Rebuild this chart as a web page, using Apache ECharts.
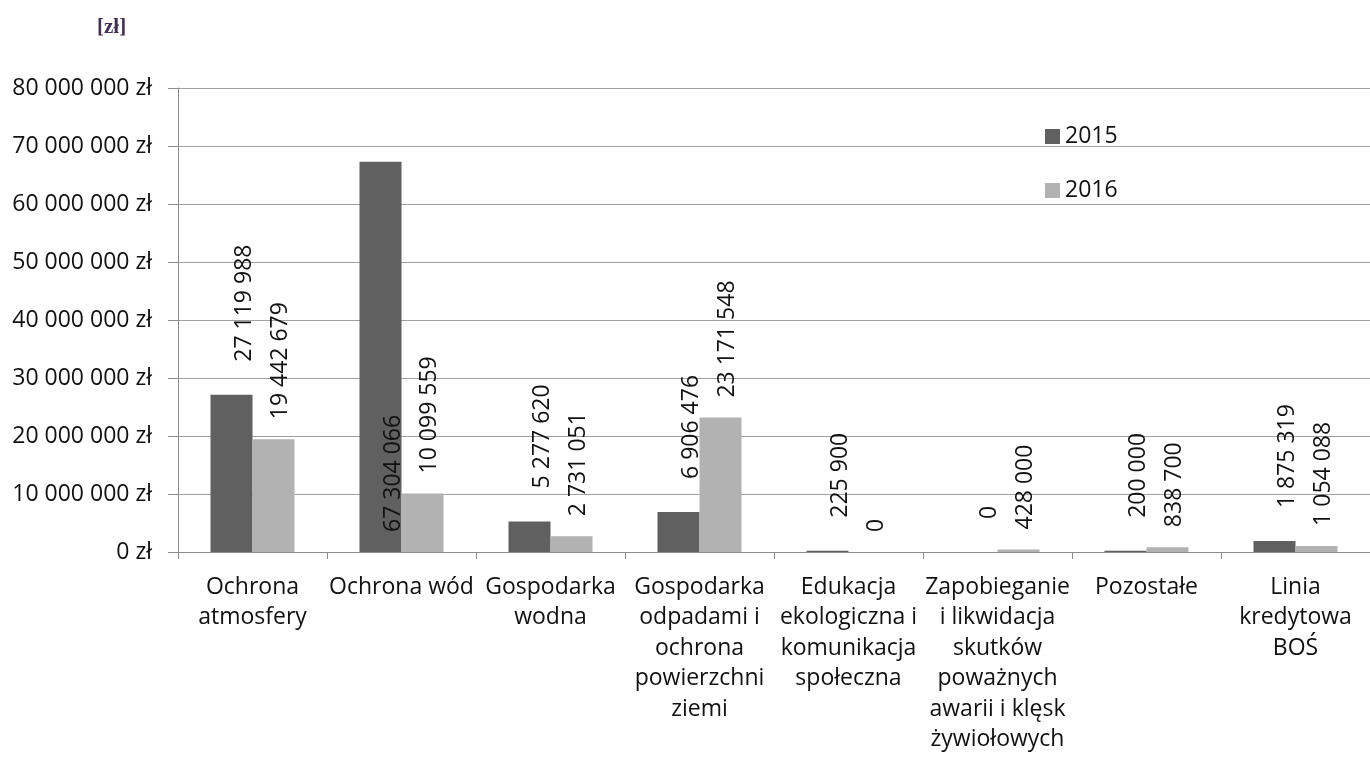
<!DOCTYPE html>
<html style="height: 100%">

<head>
    <meta charset="utf-8">
    <title>Wydatki 2015 / 2016</title>
</head>

<body style="height: 100%; margin: 0; background: #fff">
    <div id="container" style="width: 1370px; height: 760px"></div>
    <script type="text/javascript" src="https://cdn.jsdelivr.net/npm/echarts@6/dist/echarts.min.js"></script>
    <script type="text/javascript">
        // kategorie (z łamaniem linii jak w oryginale)
        var categories = [
            'Ochrona\natmosfery',
            'Ochrona wód',
            'Gospodarka\nwodna',
            'Gospodarka\nodpadami i\nochrona\npowierzchni\nziemi',
            'Edukacja\nekologiczna i\nkomunikacja\nspołeczna',
            'Zapobieganie\ni likwidacja\nskutków\npoważnych\nawarii i klęsk\nżywiołowych',
            'Pozostałe',
            'Linia\nkredytowa\nBOŚ'
        ];
        var years = ['2015', '2016'];
        var values2015 = [27119988, 67304066, 5277620, 6906476, 225900, 0, 200000, 1875319];
        var values2016 = [19442679, 10099559, 2731051, 23171548, 0, 428000, 838700, 1054088];
        var yTicks = [0, 10000000, 20000000, 30000000, 40000000, 50000000, 60000000, 70000000, 80000000];

        var FONT = '"Open Sans", sans-serif';

        // 27119988 -> "27 119 988"
        function spaced(v) {
            return String(v).replace(/\B(?=(\d{3})+(?!\d))/g, ' ');
        }

        var dom = document.getElementById("container");
        var myChart = echarts.init(dom);

        // etykieta obrócona o 90°, offset liczony w układzie obróconego tekstu
        function labelFor(dist, dx) {
            return {
                show: true,
                position: 'top',
                rotate: 90,
                align: 'left',
                verticalAlign: 'middle',
                distance: dist,
                offset: [0, dx],
                fontFamily: FONT,
                fontSize: 23,
                color: '#111',
                formatter: function (p) { return spaced(p.value); }
            };
        }

        // słupek za wysoki na etykietę nad nim -> etykieta w środku przy podstawie
        function buildData(values, dx) {
            return values.map(function (v) {
                if (v > 60000000) {
                    return {
                        value: v,
                        label: { position: 'insideBottom', distance: 20, offset: [0, dx] }
                    };
                }
                return v;
            });
        }

        var option = {
            animation: false,
            color: ['#606060', '#b2b2b2'],
            title: {
                text: '[zł]',
                left: 97,
                top: 17,
                padding: 0,
                textStyle: {
                    fontFamily: '"Liberation Serif", serif',
                    fontWeight: 'bold',
                    fontSize: 21,
                    color: '#403152'
                }
            },
            legend: {
                data: years,
                orient: 'vertical',
                left: 1045,
                top: 125,
                padding: 0,
                itemWidth: 15,
                itemHeight: 15,
                itemGap: 31,
                icon: 'rect',
                textStyle: { fontFamily: FONT, fontSize: 23, color: '#111' }
            },
            grid: {
                left: 178,
                top: 88,
                width: 1204,
                height: 464,
                containLabel: false
            },
            xAxis: {
                type: 'category',
                data: categories,
                axisLine: { lineStyle: { color: '#8c8c8c', width: 1 } },
                axisTick: { show: true, length: 7, lineStyle: { color: '#8c8c8c' } },
                axisLabel: {
                    interval: 0,
                    margin: 20,
                    fontFamily: FONT,
                    fontSize: 23,
                    lineHeight: 30.5,
                    color: '#111'
                }
            },
            yAxis: {
                type: 'value',
                min: yTicks[0],
                max: yTicks[yTicks.length - 1],
                interval: yTicks[1] - yTicks[0],
                axisLine: { show: true, lineStyle: { color: '#8c8c8c', width: 1 } },
                axisTick: { show: true, length: 10, lineStyle: { color: '#8c8c8c' } },
                splitLine: { lineStyle: { color: '#a0a0a0', width: 1 } },
                axisLabel: {
                    margin: 26,
                    fontFamily: FONT,
                    fontSize: 23,
                    color: '#111',
                    formatter: function (v) { return spaced(v) + ' zł'; }
                }
            },
            series: [{
                name: years[0],
                type: 'bar',
                barWidth: 42,
                barGap: '0%',
                data: buildData(values2015, 13),
                label: labelFor(33, 13)
            }, {
                name: years[1],
                type: 'bar',
                barWidth: 42,
                barGap: '0%',
                data: buildData(values2016, 7),
                label: labelFor(20, 7)
            }]
        };

        myChart.setOption(option);
    </script>
</body>

</html>
